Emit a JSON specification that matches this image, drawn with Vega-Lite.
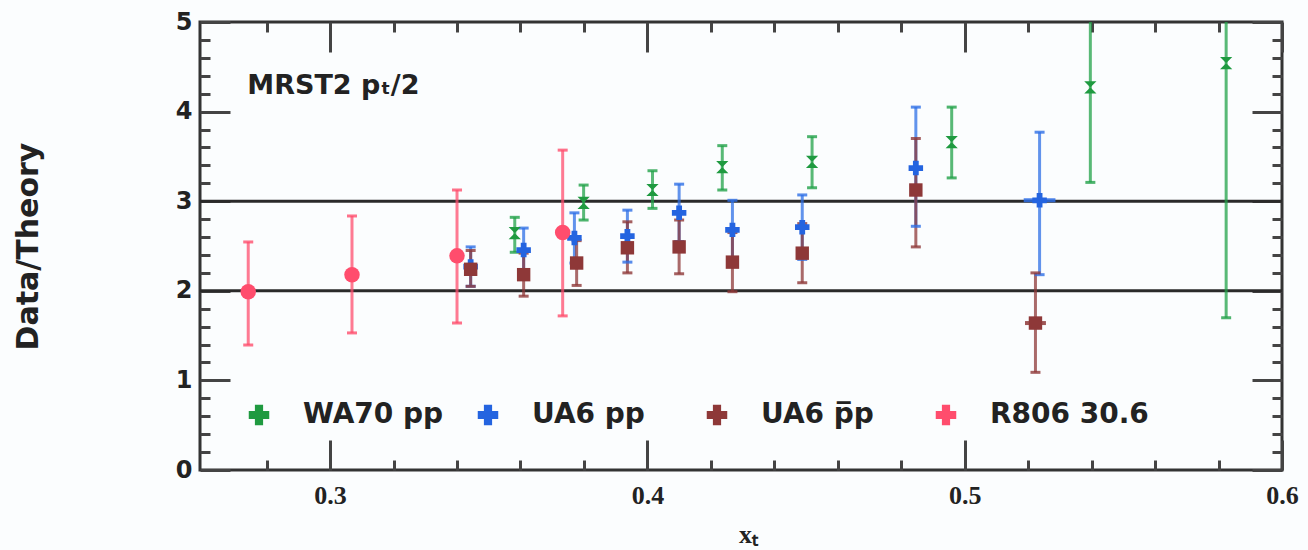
{
  "$schema": "https://vega.github.io/schema/vega-lite/v6.json",
  "width": 1082,
  "height": 448,
  "autosize": "none",
  "padding": {"left": 200, "top": 22, "right": 26, "bottom": 80},
  "background": "#fbfdfe",
  "config": {
    "view": {"stroke": "#333333", "strokeWidth": 3},
    "axis": {"grid": false, "domain": false, "tickColor": "#444444", "tickWidth": 3, "labelColor": "#222222", "titleColor": "#222222"}
  },
  "datasets": {
    "pts": [
      {"series": "WA70 pp", "x": 0.3582, "y": 2.645, "lo": 2.43, "hi": 2.82},
      {"series": "WA70 pp", "x": 0.3799, "y": 2.98, "lo": 2.79, "hi": 3.18},
      {"series": "WA70 pp", "x": 0.4016, "y": 3.125, "lo": 2.92, "hi": 3.34},
      {"series": "WA70 pp", "x": 0.4236, "y": 3.38, "lo": 3.125, "hi": 3.62},
      {"series": "WA70 pp", "x": 0.4519, "y": 3.44, "lo": 3.15, "hi": 3.72},
      {"series": "WA70 pp", "x": 0.4959, "y": 3.66, "lo": 3.26, "hi": 4.05},
      {"series": "WA70 pp", "x": 0.5396, "y": 4.27, "lo": 3.21, "hi": 5.4},
      {"series": "WA70 pp", "x": 0.5824, "y": 4.54, "lo": 1.7, "hi": 7.4},
      {"series": "UA6 pp", "x": 0.3443, "y": 2.27, "lo": 2.05, "hi": 2.49},
      {"series": "UA6 pp", "x": 0.361, "y": 2.455, "lo": 2.21, "hi": 2.7},
      {"series": "UA6 pp", "x": 0.377, "y": 2.59, "lo": 2.31, "hi": 2.87},
      {"series": "UA6 pp", "x": 0.3937, "y": 2.61, "lo": 2.32, "hi": 2.9},
      {"series": "UA6 pp", "x": 0.41, "y": 2.87, "lo": 2.55, "hi": 3.19},
      {"series": "UA6 pp", "x": 0.4268, "y": 2.68, "lo": 2.35, "hi": 3.01},
      {"series": "UA6 pp", "x": 0.4488, "y": 2.71, "lo": 2.35, "hi": 3.07},
      {"series": "UA6 pp", "x": 0.4846, "y": 3.37, "lo": 2.72, "hi": 4.05},
      {"series": "UA6 pp", "x": 0.5236, "y": 3.01, "lo": 2.18, "hi": 3.77, "xlo": 0.5186, "xhi": 0.5286},
      {"series": "UA6 p\u0305p", "x": 0.3443, "y": 2.24, "lo": 2.05, "hi": 2.45},
      {"series": "UA6 p\u0305p", "x": 0.361, "y": 2.18, "lo": 1.94, "hi": 2.42},
      {"series": "UA6 p\u0305p", "x": 0.3777, "y": 2.31, "lo": 2.06, "hi": 2.56},
      {"series": "UA6 p\u0305p", "x": 0.3937, "y": 2.48, "lo": 2.2, "hi": 2.77},
      {"series": "UA6 p\u0305p", "x": 0.41, "y": 2.49, "lo": 2.19, "hi": 2.79},
      {"series": "UA6 p\u0305p", "x": 0.4268, "y": 2.32, "lo": 1.99, "hi": 2.65},
      {"series": "UA6 p\u0305p", "x": 0.4488, "y": 2.42, "lo": 2.09, "hi": 2.75},
      {"series": "UA6 p\u0305p", "x": 0.4846, "y": 3.125, "lo": 2.49, "hi": 3.7},
      {"series": "UA6 p\u0305p", "x": 0.5223, "y": 1.64, "lo": 1.09, "hi": 2.2, "xlo": 0.519, "xhi": 0.5256},
      {"series": "R806 30.6", "x": 0.2742, "y": 1.99, "lo": 1.395, "hi": 2.545},
      {"series": "R806 30.6", "x": 0.3069, "y": 2.18, "lo": 1.53, "hi": 2.835},
      {"series": "R806 30.6", "x": 0.34, "y": 2.39, "lo": 1.64, "hi": 3.125},
      {"series": "R806 30.6", "x": 0.3733, "y": 2.65, "lo": 1.72, "hi": 3.57}
    ],
    "refs": [{"y": 2}, {"y": 3}],
    "ann": [{"x": 0.2739, "y": 4.29, "label": "MRST2 p\u209c/2"}]
  },
  "layer": [
    {
      "data": {"name": "refs"},
      "mark": {"type": "rule", "color": "#2a2a2a", "strokeWidth": 3},
      "encoding": {
        "y": {"field": "y", "type": "quantitative", "scale": {"domain": [0, 5], "nice": false, "zero": false},
          "axis": {"orient": "left", "values": [0, 1, 2, 3, 4, 5], "tickSize": -30, "labelPadding": 38, "format": "d",
            "labelFont": "DejaVu Sans", "labelFontWeight": "bold", "labelFontSize": 24,
            "title": "Data/Theory", "titleFont": "DejaVu Sans", "titleFontWeight": "bold", "titleFontSize": 30,
            "titleX": -172, "titleY": 224, "titleBaseline": "middle", "titleAlign": "center", "titleAngle": -90}}
      }
    },
    {
      "data": {"name": "pts"},
      "mark": {"type": "rule", "strokeWidth": 3, "opacity": 0.75, "clip": true},
      "encoding": {
        "x": {"field": "x", "type": "quantitative", "scale": {"domain": [0.259, 0.6], "nice": false, "zero": false},
          "axis": {"orient": "bottom", "values": [0.3, 0.4, 0.5, 0.6], "tickSize": -30, "labelPadding": 42, "format": ".1f", "labelFlush": false,
            "labelFont": "Liberation Serif", "labelFontWeight": "bold", "labelFontSize": 26,
            "title": "x\u209c", "titleFont": "Liberation Serif", "titleFontWeight": "bold", "titleFontSize": 26,
            "titleX": 548, "titleY": 64, "titleBaseline": "middle"}},
        "y": {"field": "lo", "type": "quantitative", "scale": {"domain": [0, 5], "nice": false, "zero": false},
          "axis": {"orient": "left", "values": [0.2,0.4,0.6,0.8,1.2,1.4,1.6,1.8,2.2,2.4,2.6,2.8,3.2,3.4,3.6,3.8,4.2,4.4,4.6,4.8], "tickSize": -10, "labels": false, "title": null}},
        "y2": {"field": "hi"},
        "stroke": {"field": "series", "type": "nominal", "legend": null,
          "scale": {"range": ["#ff4d6d", "#2e6fe6", "#8e3838", "#22a148"]}}
      }
    },
    {
      "data": {"name": "pts"},
      "transform": [{"fold": ["lo", "hi"], "as": ["end", "yv"]}],
      "mark": {"type": "tick", "orient": "horizontal", "size": 10, "thickness": 3, "opacity": 0.8, "clip": true},
      "encoding": {
        "x": {"field": "x", "type": "quantitative", "scale": {"domain": [0.259, 0.6], "nice": false, "zero": false},
          "axis": {"orient": "bottom", "values": [0.28,0.32,0.34,0.36,0.38,0.42,0.44,0.46,0.48,0.52,0.54,0.56,0.58], "tickSize": -10, "labels": false, "title": null}},
        "y": {"field": "yv", "type": "quantitative", "scale": {"domain": [0, 5], "nice": false, "zero": false},
          "axis": {"orient": "right", "values": [0, 1, 2, 3, 4, 5], "tickSize": -30, "labels": false, "title": null}},
        "fill": {"field": "series", "type": "nominal", "legend": null,
          "scale": {"range": ["#ff4d6d", "#2e6fe6", "#8e3838", "#22a148"]}}
      }
    },
    {
      "data": {"name": "pts"},
      "transform": [{"filter": "isValid(datum.xlo)"}],
      "mark": {"type": "rule", "strokeWidth": 4, "opacity": 0.85},
      "encoding": {
        "x": {"field": "xlo", "type": "quantitative", "scale": {"domain": [0.259, 0.6], "nice": false, "zero": false},
          "axis": {"orient": "top", "values": [0.3, 0.4, 0.5, 0.6], "tickSize": -30, "labels": false, "title": null}},
        "x2": {"field": "xhi"},
        "y": {"field": "y", "type": "quantitative", "scale": {"domain": [0, 5], "nice": false, "zero": false},
          "axis": {"orient": "right", "values": [0.2,0.4,0.6,0.8,1.2,1.4,1.6,1.8,2.2,2.4,2.6,2.8,3.2,3.4,3.6,3.8,4.2,4.4,4.6,4.8], "tickSize": -10, "labels": false, "title": null}},
        "stroke": {"field": "series", "type": "nominal", "legend": null}
      }
    },
    {
      "data": {"name": "pts"},
      "mark": {"type": "point", "filled": true, "opacity": 1},
      "encoding": {
        "x": {"field": "x", "type": "quantitative", "scale": {"domain": [0.259, 0.6], "nice": false, "zero": false},
          "axis": {"orient": "top", "values": [0.28,0.32,0.34,0.36,0.38,0.42,0.44,0.46,0.48,0.52,0.54,0.56,0.58], "tickSize": -10, "labels": false, "title": null}},
        "y": {"field": "y", "type": "quantitative", "scale": {"domain": [0, 5], "nice": false, "zero": false}, "axis": null},
        "color": {"field": "series", "type": "nominal",
          "scale": {"domain": ["WA70 pp", "UA6 pp", "UA6 p\u0305p", "R806 30.6"], "range": ["#1f9a40", "#2464e0", "#8e3838", "#ff4d6d"]},
          "legend": {"orient": "none", "legendX": 45, "legendY": 379, "direction": "horizontal", "columns": 4, "gridAlign": "all",
            "symbolType": "cross", "symbolSize": 420, "symbolStrokeWidth": 0, "symbolOpacity": 1,
            "labelFont": "DejaVu Sans", "labelFontWeight": "bold", "labelFontSize": 28, "labelColor": "#222222",
            "labelOffset": 30, "labelLimit": 400, "columnPadding": 12, "title": null}},
        "shape": {"field": "series", "type": "nominal", "legend": null,
          "scale": {"range": ["circle", "cross", "square", "M-1,-1H1L-1,1H1Z"]}},
        "size": {"field": "series", "type": "ordinal", "legend": null,
          "scale": {"range": [240, 150, 170, 130]}}
      }
    },
    {
      "data": {"name": "ann"},
      "mark": {"type": "text", "align": "left", "baseline": "middle", "font": "DejaVu Sans", "fontWeight": "bold", "fontSize": 27, "color": "#222222"},
      "encoding": {
        "x": {"field": "x", "type": "quantitative", "scale": {"domain": [0.259, 0.6], "nice": false, "zero": false}, "axis": null},
        "y": {"field": "y", "type": "quantitative", "scale": {"domain": [0, 5], "nice": false, "zero": false}, "axis": null},
        "text": {"field": "label"}
      }
    }
  ],
  "resolve": {"axis": {"x": "independent", "y": "independent"}}
}
